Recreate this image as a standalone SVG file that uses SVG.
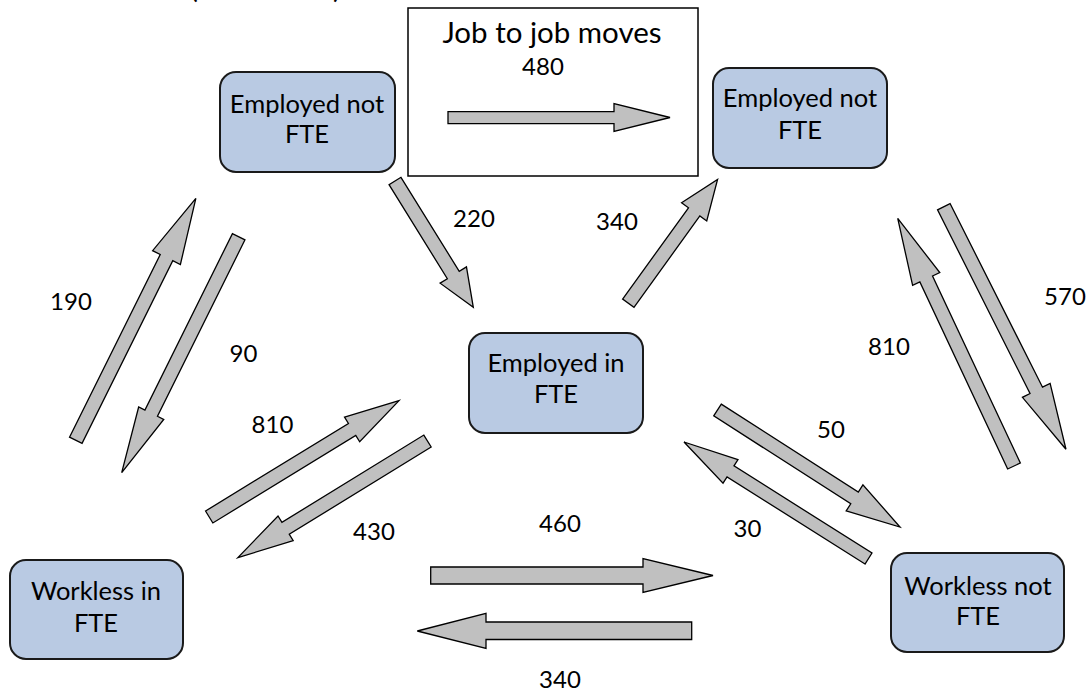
<svg xmlns="http://www.w3.org/2000/svg" width="1091" height="693" viewBox="0 0 1091 693">
<style>
.node{fill:#b9cae3;stroke:#1a1a1a;stroke-width:2}
.box{fill:#ffffff;stroke:#000;stroke-width:1.5}
.arr{fill:#c0c0c0;stroke:#000;stroke-width:1.3;stroke-linejoin:miter}
text{font-family:Lato,"Open Sans","Liberation Sans",sans-serif;fill:#000;text-anchor:middle}
.nt{font-size:25.5px}
.lb{font-size:24px}
.tt{font-size:29.5px}
</style>
<rect width="1091" height="693" fill="#fff"/>
<text class="tt" x="194" y="-2">(</text>
<text class="tt" x="337" y="-2">)</text>

<g id="job-box">
<rect class="box" x="408" y="8" width="290" height="168"/>
<text class="tt" x="552" y="43">Job to job moves</text>
<text class="lb" x="543" y="75">480</text>
<polygon class="arr" points="448,111.7 614,111.7 614,103.5 670,117.5 614,131.5 614,123.7 448,123.7"/>
</g>

<g id="node-employed-not-fte-left">
<rect class="node" x="220" y="72" width="175" height="100" rx="16"/>
<text class="nt" x="307" y="113">Employed not</text>
<text class="nt" x="307" y="143">FTE</text>
</g>
<g id="node-employed-not-fte-right">
<rect class="node" x="713" y="68" width="174" height="100" rx="16"/>
<text class="nt" x="800" y="107">Employed not</text>
<text class="nt" x="800" y="139">FTE</text>
</g>
<g id="node-employed-in-fte">
<rect class="node" x="469" y="333" width="174" height="100" rx="16"/>
<text class="nt" x="556" y="372">Employed in</text>
<text class="nt" x="556" y="403">FTE</text>
</g>
<g id="node-workless-in-fte">
<rect class="node" x="10" y="560" width="173" height="99" rx="16"/>
<text class="nt" x="96" y="600">Workless in</text>
<text class="nt" x="96" y="632">FTE</text>
</g>
<g id="node-workless-not-fte">
<rect class="node" x="891" y="553" width="173" height="99" rx="16"/>
<text class="nt" x="978" y="595">Workless not</text>
<text class="nt" x="978" y="625">FTE</text>
</g>

<g id="connectors">
<polygon class="arr" transform="translate(75.8,440.3) rotate(-63.6)" points="0,-7 204,-7 204,-15.5 270,0 204,15.5 204,7 0,7"/>
<polygon class="arr" transform="translate(238.7,236.7) rotate(116.37)" points="0,-7 197,-7 197,-14 263.4,0 197,14 197,7 0,7"/>
<polygon class="arr" transform="translate(209.2,517) rotate(-31.5)" points="0,-7 167.6,-7 167.6,-14.5 222.6,0 167.6,14.5 167.6,7 0,7"/>
<polygon class="arr" transform="translate(427.5,441) rotate(148.4)" points="0,-7 166.6,-7 166.6,-14.5 222.6,0 166.6,14.5 166.6,7 0,7"/>
<polygon class="arr" transform="translate(395,181) rotate(58.2)" points="0,-7 110.6,-7 110.6,-15.5 148.6,0 110.6,15.5 110.6,7 0,7"/>
<polygon class="arr" transform="translate(628.3,303.2) rotate(-54.2)" points="0,-7 112.6,-7 112.6,-15.5 152.6,0 112.6,15.5 112.6,7 0,7"/>
<polygon class="arr" transform="translate(1014,466) rotate(-115.15)" points="0,-7 206.6,-7 206.6,-15 273.6,0 206.6,15 206.6,7 0,7"/>
<polygon class="arr" transform="translate(943.8,206.7) rotate(63.27)" points="0,-7 205.6,-7 205.6,-15.5 271.6,0 205.6,15.5 205.6,7 0,7"/>
<polygon class="arr" transform="translate(717.5,410) rotate(32.67)" points="0,-7 162.8,-7 162.8,-15.5 216.8,0 162.8,15.5 162.8,7 0,7"/>
<polygon class="arr" transform="translate(868.5,558.5) rotate(-147.73)" points="0,-6.5 163.2,-6.5 163.2,-14 218.2,0 163.2,14 163.2,6.5 0,6.5"/>
<polygon class="arr" points="430.7,567 643,567 643,558.5 713,575.5 643,592.5 643,584 430.7,584"/>
<polygon class="arr" points="691.7,622 486,622 486,613.3 417.3,631 486,648.5 486,639.5 691.7,639.5"/>
</g>

<g id="labels">
<text class="lb" x="474" y="227">220</text>
<text class="lb" x="617" y="230">340</text>
<text class="lb" x="71" y="310">190</text>
<text class="lb" x="243.5" y="362">90</text>
<text class="lb" x="272.5" y="433">810</text>
<text class="lb" x="374" y="540">430</text>
<text class="lb" x="560" y="532">460</text>
<text class="lb" x="747.5" y="537">30</text>
<text class="lb" x="831" y="438">50</text>
<text class="lb" x="889" y="355">810</text>
<text class="lb" x="1065" y="305">570</text>
<text class="lb" x="560" y="688">340</text>
</g>
</svg>
